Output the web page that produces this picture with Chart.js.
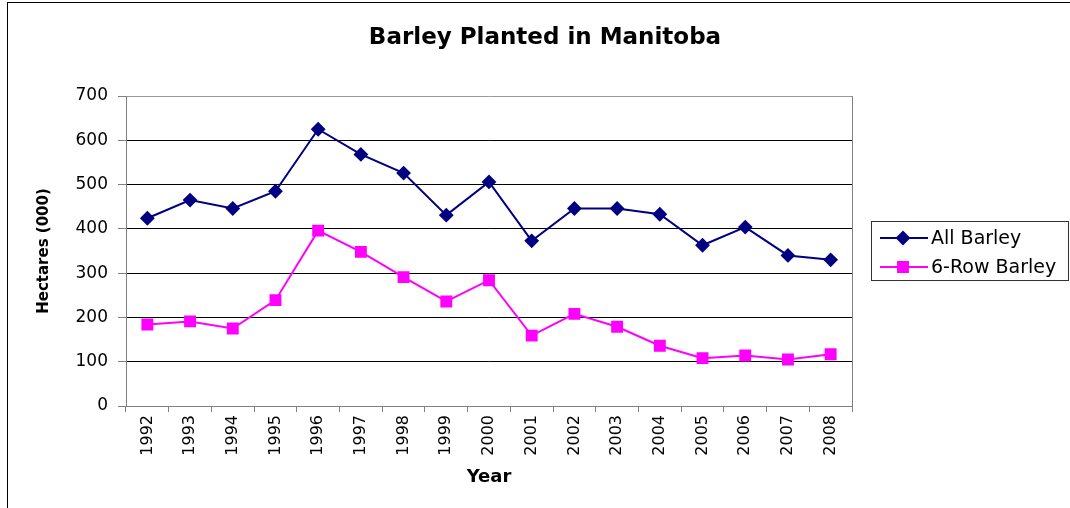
<!DOCTYPE html>
<html>
<head>
<meta charset="utf-8">
<title>Barley Planted in Manitoba</title>
<script src="https://cdn.jsdelivr.net/npm/chart.js@4.4.0/dist/chart.umd.min.js"></script>
<style>
  body { margin: 0; background: #fff; }
  canvas { display: block; }
</style>
</head>
<body>
<canvas id="barleyChart" width="1070" height="508"></canvas>
<script>
// values, hectares (000)
const years = ['1992', '1993', '1994', '1995', '1996', '1997', '1998', '1999', '2000',
  '2001', '2002', '2003', '2004', '2005', '2006', '2007', '2008'];
const allBarley = [424, 465, 446, 485, 625, 568, 526, 431, 506, 373, 446, 446, 433, 363, 404, 340, 330];
const sixRowBarley = [184, 191, 175, 239, 396, 348, 291, 236, 284, 159, 208, 179, 136, 108, 114, 105, 117];
const yMin = 0;
const yMax = 700;
const yStep = 100;

const fontName = '"DejaVu Sans", Arial, sans-serif';

// old Excel look: outer frame, grey right border of the plot, boxed legend
const excelLook = {
  id: 'excelLook',
  beforeDraw(chart) {
    const ctx = chart.ctx;
    ctx.save();
    ctx.fillStyle = '#fff';
    ctx.fillRect(0, 0, chart.width, chart.height);
    ctx.strokeStyle = '#000';
    ctx.lineWidth = 1;
    ctx.strokeRect(7.5, 2.5, chart.width + 20, chart.height + 20);
    ctx.restore();
  },
  afterDraw(chart) {
    const ctx = chart.ctx;
    const area = chart.chartArea;
    ctx.save();
    ctx.strokeStyle = '#808080';
    ctx.lineWidth = 1;
    ctx.beginPath();
    ctx.moveTo(Math.round(area.right) + 0.5, area.top);
    ctx.lineTo(Math.round(area.right) + 0.5, area.bottom);
    ctx.stroke();

    // legend box
    ctx.strokeStyle = '#333';
    ctx.strokeRect(871.5, 221.5, 197, 59);
    const rows = [238, 267];
    chart.data.datasets.forEach((ds, i) => {
      const y = rows[i];
      ctx.strokeStyle = ds.borderColor;
      ctx.lineWidth = 2;
      ctx.beginPath();
      ctx.moveTo(880, y);
      ctx.lineTo(928, y);
      ctx.stroke();
      ctx.fillStyle = ds.pointBackgroundColor;
      ctx.strokeStyle = ds.pointBorderColor;
      Chart.helpers.drawPoint(ctx, {
        pointStyle: ds.pointStyle,
        radius: ds.pointRadius,
        rotation: 0,
        borderWidth: 1
      }, 903, y);
      ctx.fillStyle = '#000';
      ctx.font = '19px ' + fontName;
      ctx.textBaseline = 'middle';
      ctx.textAlign = 'left';
      ctx.fillText(ds.label, 931, y + 1);
    });
    ctx.restore();
  }
};

const chartData = {
  labels: years,
  datasets: [
    {
      label: 'All Barley',
      data: allBarley,
      borderColor: '#000080',
      backgroundColor: '#000080',
      pointBackgroundColor: '#000080',
      pointBorderColor: '#000080',
      pointStyle: 'rectRot',
      pointRadius: 6,
      borderWidth: 2,
      tension: 0,
      fill: false
    },
    {
      label: '6-Row Barley',
      data: sixRowBarley,
      borderColor: '#ff00ff',
      backgroundColor: '#ff00ff',
      pointBackgroundColor: '#ff00ff',
      pointBorderColor: '#ff00ff',
      pointStyle: 'rect',
      pointRadius: 7,
      borderWidth: 2,
      tension: 0,
      fill: false
    }
  ]
};

const config = {
  type: 'line',
  data: chartData,
  plugins: [excelLook],
  options: {
    responsive: false,
    animation: false,
    layout: { padding: { left: 20, right: 0, top: 0, bottom: 0 } },
    plugins: {
      legend: { display: false },
      tooltip: { enabled: false },
      title: {
        display: true,
        text: 'Barley Planted in Manitoba',
        color: '#000',
        font: { family: fontName, size: 23, weight: 'bold', lineHeight: 1.2 },
        padding: { top: 24, bottom: 44.4 }
      }
    },
    scales: {
      x: {
        offset: true,
        grid: { offset: true, drawOnChartArea: false, tickLength: 6, color: '#808080' },
        border: { color: '#808080' },
        ticks: {
          autoSkip: false,
          minRotation: 90,
          maxRotation: 90,
          padding: 3,
          color: '#000',
          font: { family: fontName, size: 16 }
        },
        title: {
          display: true,
          text: 'Year',
          color: '#000',
          font: { family: fontName, size: 18, weight: 'bold', lineHeight: 1.2 },
          padding: { top: 0, bottom: 20 }
        },
        afterFit(scale) { scale.height = 102; }
      },
      y: {
        min: yMin,
        max: yMax,
        ticks: {
          stepSize: yStep,
          padding: 10,
          color: '#000',
          font: { family: fontName, size: 17 }
        },
        grid: {
          color: ctx => (ctx.tick && (ctx.tick.value === yMax || ctx.tick.value === yMin)) ? '#999' : '#000',
          tickColor: '#808080',
          tickLength: 8
        },
        border: { color: '#808080' },
        title: {
          display: true,
          text: 'Hectares (000)',
          color: '#000',
          font: { family: fontName, size: 15, weight: 'bold', lineHeight: 1.2 },
          padding: { top: 15, bottom: 0 }
        },
        afterFit(scale) { scale.width = 106; }
      },
      // empty axis on the right only to keep room for the legend box
      legendRoom: {
        type: 'linear',
        position: 'right',
        display: true,
        grid: { display: false },
        border: { display: false },
        ticks: { display: false },
        afterFit(scale) { scale.width = 218; }
      }
    }
  }
};

try {
  const ctx = document.getElementById('barleyChart').getContext('2d');
  new Chart(ctx, config);
} catch (error) {
  console.error('Error rendering the chart:', error);
}
</script>
</body>
</html>
